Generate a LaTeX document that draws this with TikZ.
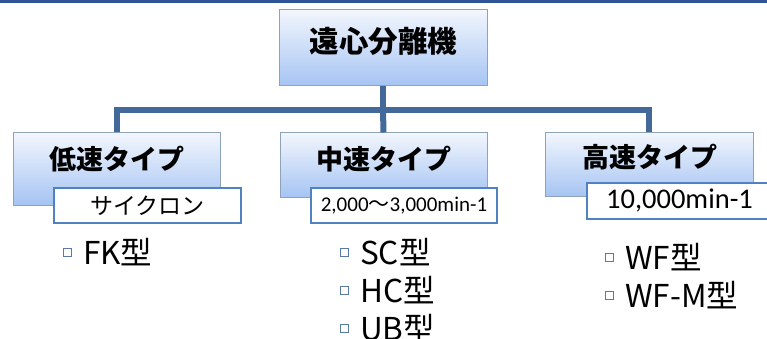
\documentclass[tikz,border=0pt]{standalone}
\usepackage{fontspec}
\usepackage{xcolor}
\usetikzlibrary{positioning}
\newfontfamily\jpfont{Noto Sans CJK JP}
\newfontfamily\numfont{Carlito}
\definecolor{barblue}{HTML}{2F5597}
\definecolor{linkblue}{HTML}{43699B}
\definecolor{boxedge}{HTML}{8FA3B6}
\definecolor{boxtop}{HTML}{F2F6FD}
\definecolor{boxbot}{HTML}{A6C4F3}
\definecolor{subedge}{HTML}{5182C0}
\definecolor{sqedge}{HTML}{5A7AA3}

\begin{document}
\begin{tikzpicture}[x=1pt,y=-1pt,
  typebox/.style={draw=boxedge,line width=1pt,top color=boxtop,bottom color=boxbot,inner sep=0pt},
  typetext/.style={font=\jpfont\bfseries\fontsize{27}{27}\selectfont,inner sep=0pt},
  subbox/.style={draw=subedge,line width=1.5pt,fill=white,minimum height=35pt,inner sep=0pt},
  conn/.style={draw=linkblue,line width=6pt},
  sq/.style={draw=sqedge,line width=1pt,fill=white,minimum size=8pt,inner sep=0pt},
  item/.style={font=\jpfont\fontsize{31.5}{31.5}\selectfont,inner sep=0pt}
]
\useasboundingbox (0,0) rectangle (767,339);
\fill[barblue] (0,0) rectangle (767,3);

% root
\node[typebox,minimum width=208pt,minimum height=76pt] (root) at (383,48) {};
\node[font=\jpfont\bfseries\fontsize{29.5}{29.5}\selectfont,inner sep=0pt] (rootT) at (383.5,41) {遠心分離機};

% types
\node[typebox,minimum width=207pt,minimum height=72pt] (low) at (116.5,169) {};
\node[typebox,minimum width=207pt,minimum height=64pt] (mid) at (383.5,165) {};
\node[typebox,minimum width=208pt,minimum height=63pt] (high) at (649,164.5) {};
\node[typetext] (lowT) at (117,159) {低速タイプ};
\node[typetext] (midT) at (383.5,159) {中速タイプ};
\node[typetext] (highT) at (650,157) {高速タイプ};

% connectors
\coordinate (bus) at (383,110);
\draw[conn] (root.south) -- (bus);
\draw[conn] (low.north) -- (low.north |- bus) -- (high.north |- bus) -- (high.north);
\draw[conn] (bus) -- (mid.north);

% speeds
\node[subbox,minimum width=187pt] (lowS) at (147.5,205.5) {\jpfont\fontsize{23}{23}\selectfont サイクロン};
\node[subbox,minimum width=186pt] (midS) at (404,205.5) {\numfont\fontsize{21}{21}\selectfont 2,000{\jpfont ～}3,000min-1};
\node[subbox,minimum width=185pt,minimum height=36pt] (highS) at (679.5,201) {\numfont\fontsize{28.5}{28.5}\selectfont 10,000min-1};

% models
\node[sq] (b1) at (67.5,252.5) {};
\node[item,right=11pt of b1] (fk) {FK型};
\node[sq] (b2) at (344.5,252.5) {};
\node[item,right=11pt of b2] (sc) {SC型};
\node[sq] (b3) at (344.5,290.5) {};
\node[item,right=11pt of b3] (hc) {HC型};
\node[sq] (b4) at (344.5,328.5) {};
\node[item,right=11pt of b4] (ub) {UB型};
\node[sq] (b5) at (609.5,257.5) {};
\node[item,right=11pt of b5] (wf) {WF型};
\node[sq] (b6) at (609.5,295) {};
\node[item,right=11pt of b6] (wfm) {WF-M型};
\end{tikzpicture}
\end{document}
